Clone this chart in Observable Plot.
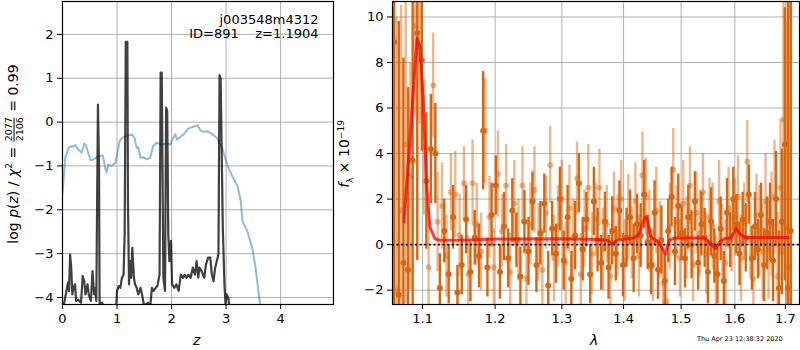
<!DOCTYPE html>
<html><head><meta charset="utf-8">
<script src="https://cdn.jsdelivr.net/npm/d3@7"></script>
<script src="https://cdn.jsdelivr.net/npm/@observablehq/plot@0.6"></script>
<style>
body{margin:0;background:#fff;font-family:"DejaVu Sans",sans-serif;color:#000}
#wrap{position:relative;width:800px;height:350px;overflow:hidden}
#left{position:absolute;left:0;top:0}
#right{position:absolute;left:340px;top:0}
.lab{position:absolute;white-space:nowrap;font-size:14px;line-height:1}
.rot{transform:translate(-50%,-50%) rotate(-90deg)}
.frac{display:inline-flex;flex-direction:column;vertical-align:middle;font-size:9.5px;text-align:center;line-height:1.05;margin:0 1px}
.frac span:first-child{border-bottom:1px solid #000}
.stamp{position:absolute;left:697px;top:335px;font-size:6.5px;white-space:nowrap}
</style></head><body>
<div id="wrap">
<div id="left"></div><div id="right"></div>
<div class="lab rot" style="left:14px;top:154px">log <i>p</i>(<i>z</i>) / <i>χ</i><sup style="font-size:9px">2</sup> = <span class="frac"><span>2077</span><span>2106</span></span> = 0.99</div>
<div class="lab rot" style="left:346px;top:154px"><i>f</i><sub style="font-size:9px">λ</sub> × 10<sup style="font-size:9px">−19</sup></div>
<div class="lab" style="left:193px;top:333px"><i>z</i></div>
<div class="lab" style="left:590px;top:333px"><i>λ</i></div>
<div class="stamp">Thu Apr 23 12:38:32 2020</div>
</div>
<script>
// ---- left panel: redshift PDF ----
const blueZ = [0,0.05,0.11,0.17,0.20,0.23,0.28,0.32,0.35,0.40,0.43,0.48,0.52,0.57,0.63,0.69,0.74,0.78,0.81,0.84,0.90,0.97,1.00,1.05,1.09,1.18,1.27,1.32,1.36,1.39,1.43,1.49,1.55,1.61,1.66,1.73,1.82,1.91,1.98,2.03,2.07,2.10,2.16,2.22,2.31,2.38,2.44,2.48,2.53,2.59,2.66,2.74,2.83,2.93,3.02,3.11,3.21,3.27,3.30,3.39,3.48,3.54,3.60,3.63];
const blueY = [-1.65,-0.81,-0.59,-0.55,-0.56,-0.52,-0.62,-0.66,-0.70,-0.49,-0.53,-0.74,-0.87,-0.85,-0.80,-0.78,-0.76,-1.04,-1.15,-0.97,-1.00,-0.93,-0.74,-0.43,-0.36,-0.32,-0.28,-0.36,-0.59,-0.57,-0.81,-0.80,-0.85,-0.81,-0.55,-0.47,-0.51,-0.49,-0.51,-0.36,-0.28,-0.40,-0.34,-0.28,-0.15,-0.11,-0.09,-0.08,-0.19,-0.22,-0.21,-0.27,-0.36,-0.59,-0.97,-1.23,-1.46,-1.80,-2.26,-2.49,-2.87,-3.32,-3.93,-4.2];
const pzZ = [0.02,0.06,0.10,0.12,0.14,0.16,0.18,0.20,0.23,0.25,0.29,0.34,0.37,0.40,0.42,0.46,0.48,0.52,0.55,0.58,0.60,0.62,0.64,0.65,0.67,0.68,0.72,0.76,0.80,0.97,1.00,1.03,1.06,1.09,1.12,1.14,1.16,1.19,1.20,1.22,1.24,1.26,1.28,1.31,1.33,1.36,1.39,1.43,1.46,1.49,1.53,1.57,1.61,1.64,1.67,1.71,1.74,1.78,1.80,1.82,1.85,1.88,1.90,1.92,1.94,1.96,1.99,2.01,2.05,2.09,2.13,2.17,2.21,2.24,2.27,2.31,2.35,2.39,2.43,2.46,2.49,2.51,2.55,2.60,2.63,2.67,2.71,2.74,2.77,2.80,2.83,2.86,2.88,2.90,2.94,2.97,2.99,3.01,3.04,3.06,3.10];
const pzY = [-4.2,-3.93,-3.66,-3.85,-3.02,-3.32,-3.93,-3.78,-3.70,-4.08,-4.05,-4.12,-3.51,-3.63,-3.93,-3.70,-3.93,-4.08,-3.40,-3.93,-3.78,-4.08,-1.04,0.40,-1.04,-4.16,-4.12,-4.2,-4.6,-4.6,-3.85,-3.74,-3.78,-3.55,-3.48,-2.56,1.83,1.83,-1.80,-3.70,-3.17,-3.55,-2.87,-3.55,-3.70,-3.78,-3.93,-3.78,-3.93,-4.16,-4.16,-4.12,-4.2,-3.78,-3.85,-3.78,-3.74,-3.48,1.13,1.13,-3.55,-3.85,0.33,0.25,-2.56,-3.17,-2.71,-3.70,-3.78,-3.70,-3.85,-3.48,-3.55,-3.48,-3.55,-3.48,-3.55,-3.32,-3.48,-3.17,-3.55,-3.32,-3.40,-3.55,-3.25,-3.09,-3.09,-3.48,-3.63,-3.32,-3.17,-3.02,1.07,0.99,-2.41,-3.70,-4.16,-3.93,-4.01,-4.2,-4.6];
const leftXTicks = [0,1,2,3,4];
const leftYTicks = [-4,-3,-2,-1,0,1,2];
const annot = ["j003548m4312", "ID=891\u00a0\u00a0\u00a0\u00a0z=1.1904"];

// ---- right panel: spectrum ----
const darkLam = [1.063,1.069,1.075,1.081,1.087,1.093,1.099,1.105,1.111,1.117,1.123,1.129,1.135,1.141,1.147,1.153,1.159,1.165,1.171,1.177,1.183,1.189,1.195,1.201,1.207,1.213,1.219,1.225,1.231,1.237,1.243,1.249,1.255,1.261,1.267,1.273,1.279,1.285,1.291,1.297,1.303,1.309,1.315,1.321,1.327,1.333,1.339,1.345,1.351,1.357,1.363,1.369,1.375,1.381,1.387,1.393,1.399,1.405,1.411,1.417,1.423,1.429,1.435,1.441,1.447,1.453,1.459,1.465,1.471,1.477,1.483,1.489,1.495,1.501,1.507,1.513,1.519,1.525,1.531,1.537,1.543,1.549,1.555,1.561,1.567,1.573,1.579,1.585,1.591,1.597,1.603,1.609,1.615,1.621,1.627,1.633,1.639,1.645,1.651,1.657,1.663,1.669,1.675,1.681,1.687,1.693,1.699,1.705,1.711];
const darkFlux = [8.9,-2.2,-0.8,-1.1,3.7,9.3,8.1,2.8,4.2,4.0,
 -1.9,0.6,-1.3,1.2,-2.1,-0.9,1.1,-1.2,0.3,-0.5,
 5.0,-1.0,1.3,2.6,-1.2,0.8,-0.6,1.5,0.2,-1.4,
 1.0,-0.3,1.9,-0.9,0.5,1.8,-1.8,0.7,-0.4,2.0,
 -0.7,1.2,-1.5,0.4,2.7,-0.2,1.1,-1.3,1.9,0.2,
 -0.8,1.0,-1.0,0.6,-0.4,1.5,-0.9,0.3,1.2,-0.6,
 0.9,0.4,2.2,0.1,-0.9,1.4,-1.1,0.2,-1.6,0.6,
 2.1,-0.3,1.7,0.5,-0.6,1.2,0.0,1.9,-0.8,0.9,
 0.3,-1.2,1.0,-0.5,-1.3,0.7,-1.6,1.4,0.2,2.0,
 0.9,-0.4,1.1,0.3,2.2,-0.6,0.8,-0.2,1.3,-0.9,
 0.5,1.0,-0.7,2.0,-1.9,1.0,4.4,-1.9,0.6];
const darkErr = [14,12,9,8,10,10,4.0,3.0,2.4,2.2,
 1.5,1.4,1.3,1.4,1.2,1.3,1.5,1.3,1.2,1.4,
 2.6,1.3,1.4,1.3,1.2,1.5,1.3,1.4,1.2,1.3,
 1.4,1.5,1.3,1.2,1.4,1.3,1.5,1.2,1.3,1.4,
 1.3,1.4,1.2,1.5,1.3,1.4,1.2,1.3,1.5,1.4,
 1.2,1.3,1.4,1.5,1.2,1.3,1.4,1.3,1.2,1.5,
 1.3,1.4,1.5,1.2,1.3,1.4,1.3,1.5,1.2,1.4,
 1.3,1.5,1.4,1.2,1.3,1.4,1.5,1.3,1.2,1.4,
 1.3,1.4,1.5,1.2,1.3,1.4,1.3,1.5,1.2,1.4,
 1.3,1.4,1.2,1.5,1.3,1.4,1.5,1.3,1.4,1.6,
 1.6,1.7,1.8,2.1,2.5,3.2,6.0,14,14];
const lightLam = [1.066,1.072,1.078,1.084,1.090,1.096,1.102,1.108,1.114,1.120,1.126,1.132,1.138,1.144,1.150,1.156,1.162,1.168,1.174,1.180,1.186,1.192,1.198,1.204,1.210,1.216,1.222,1.228,1.234,1.240,1.246,1.252,1.258,1.264,1.270,1.276,1.282,1.288,1.294,1.300,1.306,1.312,1.318,1.324,1.330,1.336,1.342,1.348,1.354,1.360,1.366,1.372,1.378,1.384,1.390,1.396,1.402,1.408,1.414,1.420,1.426,1.432,1.438,1.444,1.450,1.456,1.462,1.468,1.474,1.480,1.486,1.492,1.498,1.504,1.510,1.516,1.522,1.528,1.534,1.540,1.546,1.552,1.558,1.564,1.570,1.576,1.582,1.588,1.594,1.600,1.606,1.612,1.618,1.624,1.630,1.636,1.642,1.648,1.654,1.660,1.666,1.672,1.678,1.684,1.690,1.696,1.702,1.708];
const lightFlux = [-2.0,1.5,4.4,3.0,9.6,8.7,4.3,-1.0,7.0,1.0,
 1.7,-0.5,2.3,2.2,0.4,2.7,-1.3,2.7,0.9,-0.3,
 5.0,1.2,-1.0,3.1,0.6,2.6,-1.2,1.8,0.2,2.6,
 -1.5,0.9,2.4,0.1,-1.1,1.4,3.5,-0.6,0.8,2.0,
 -0.8,1.6,0.3,2.9,-1.3,0.7,2.5,-0.4,1.1,2.5,
 -0.2,0.9,-1.4,1.6,0.4,2.0,-0.7,1.2,0.1,1.9,
 -0.5,3.05,2.1,0.6,-0.9,1.5,0.2,-1.7,-2.5,0.8,
 3.3,1.0,-0.6,1.8,0.3,2.6,-0.9,1.4,0.5,2.3,
 -0.4,1.2,0.8,-1.2,1.9,0.1,-0.8,1.6,0.4,1.2,
 2.1,-0.6,1.0,3.65,0.2,-1.5,1.3,0.6,-0.3,1.9,
 -0.2,0.9,2.1,-1.4,2.5,5.5,0.8,-1.0];
const lightErr = [12,9,7,5,4,3.4,3.0,2.6,2.3,2.2,
 1.9,1.8,1.7,1.9,1.8,1.6,1.7,1.9,1.8,1.7,
 2.3,1.8,1.7,1.9,1.6,1.8,1.7,1.9,1.8,1.7,
 1.6,1.8,1.9,1.7,1.8,1.6,1.7,1.9,1.8,1.7,
 1.8,1.9,1.7,1.6,1.8,1.7,1.9,1.8,1.6,1.7,
 1.8,1.7,1.9,1.6,1.8,1.7,1.8,1.9,1.6,1.7,
 1.8,1.9,1.7,1.8,1.6,1.9,1.7,1.8,1.7,1.9,
 1.8,1.6,1.7,1.9,1.8,1.7,1.6,1.8,1.9,1.7,
 1.8,1.7,1.9,1.6,1.8,1.7,1.9,1.8,1.6,1.7,
 1.8,1.9,1.7,1.8,1.7,1.9,1.8,2.0,2.1,2.1,
 2.2,2.3,2.5,2.8,3.0,6.0,9.0,12];
const modelLam = [1.0755,1.0833,1.0898,1.0929,1.0964,1.1008,1.1053,1.1097,1.1164,1.1232,1.155,1.2027,1.303,1.3565,1.373,1.381,1.3896,1.4062,1.4177,1.4263,1.435,1.4378,1.4408,1.4467,1.4600,1.4718,1.4787,1.4876,1.5425,1.555,1.563,1.5707,1.5802,1.5929,1.6027,1.609,1.619,1.7057];
const modelFlux = [1.0,4.45,7.83,9.07,8.7,6.36,2.69,0.78,0.26,0.19,0.19,0.25,0.26,0.23,0.19,0.04,0.19,0.26,0.29,0.48,1.15,1.22,1.07,0.34,0.1,-0.4,0.19,0.29,0.29,0.04,-0.18,0.12,0.26,0.31,0.73,0.48,0.31,0.31];
const rightXTicks = [1.1,1.2,1.3,1.4,1.5,1.6,1.7];
const rightYTicks = [-2,0,2,4,6,8,10];

const font = {fontFamily:"DejaVu Sans, sans-serif", fontSize:"13px", background:"white", color:"black", overflow:"visible"};
const gridStyle = {stroke:"#b0b0b0", strokeOpacity:1, strokeWidth:1};
const axStyle = {tickSize:5, tickPadding:4, label:null, stroke:"black"};
const intFmt = d3.format("d");

const blue = blueZ.map((z,i)=>({z, y: blueY[i]}));
const pz = pzZ.map((z,i)=>({z, y: pzY[i]}));

const left = Plot.plot({
  width:340, height:350, marginLeft:62, marginRight:7, marginTop:1, marginBottom:46,
  style: font,
  x:{domain:[0,4.97]},
  y:{domain:[-4.16,2.75]},
  marks:[
    Plot.gridX({ticks:leftXTicks, ...gridStyle}),
    Plot.gridY({ticks:leftYTicks, ...gridStyle}),
    Plot.line(blue, {x:"z", y:"y", stroke:"#1f77b4", strokeOpacity:0.5, strokeWidth:2, clip:true}),
    Plot.line(pz, {x:"z", y:"y", stroke:"#000", strokeOpacity:0.75, strokeWidth:2.2, clip:true}),
    Plot.text([annot.join("\n")], {text:d=>d, frameAnchor:"top-right", textAnchor:"end", lineAnchor:"top", dx:-15, dy:12, fontSize:13, lineHeight:1.1, fill:"black"}),
    Plot.frame({stroke:"black", strokeWidth:1.2}),
    Plot.axisX({ticks:leftXTicks, tickFormat:intFmt, ...axStyle}),
    Plot.axisY({ticks:leftYTicks, tickFormat:intFmt, ...axStyle})
  ]
});
document.getElementById("left").appendChild(left);

const dark = darkLam.map((l,i)=>({l, f: darkFlux[i], e: darkErr[i]}));
const light = lightLam.map((l,i)=>({l, f: lightFlux[i], e: lightErr[i]}));
const model = modelLam.map((l,i)=>({l, f: modelFlux[i]}));
const orange = "#d9660e";

const right = Plot.plot({
  width:460, height:350, marginLeft:52, marginRight:1, marginTop:1, marginBottom:46,
  style: font,
  x:{type:"log", domain:[1.061,1.729]},
  y:{domain:[-2.63,10.68]},
  marks:[
    Plot.gridX({ticks:rightXTicks, ...gridStyle}),
    Plot.gridY({ticks:rightYTicks, ...gridStyle}),
    Plot.ruleX(light, {x:"l", y1:d=>d.f-d.e, y2:d=>d.f+d.e, stroke:orange, strokeOpacity:0.47, strokeWidth:2.4, clip:true}),
    Plot.dot(light, {x:"l", y:"f", r:3, fill:orange, fillOpacity:0.47, clip:true}),
    Plot.ruleX(dark, {x:"l", y1:d=>d.f-d.e, y2:d=>d.f+d.e, stroke:orange, strokeWidth:2.4, clip:true}),
    Plot.dot(dark, {x:"l", y:"f", r:3, fill:orange, clip:true}),
    Plot.ruleY([0], {stroke:"black", strokeWidth:1.6, strokeDasharray:"2,2.6"}),
    Plot.line(model, {x:"l", y:"f", stroke:"#ff0000", strokeOpacity:0.75, strokeWidth:3, clip:true}),
    Plot.frame({stroke:"black", strokeWidth:1.2}),
    Plot.axisX({ticks:rightXTicks, tickFormat:d=>d.toFixed(1), ...axStyle}),
    Plot.axisY({ticks:rightYTicks, tickFormat:intFmt, ...axStyle})
  ]
});
document.getElementById("right").appendChild(right);
</script>
</body></html>
